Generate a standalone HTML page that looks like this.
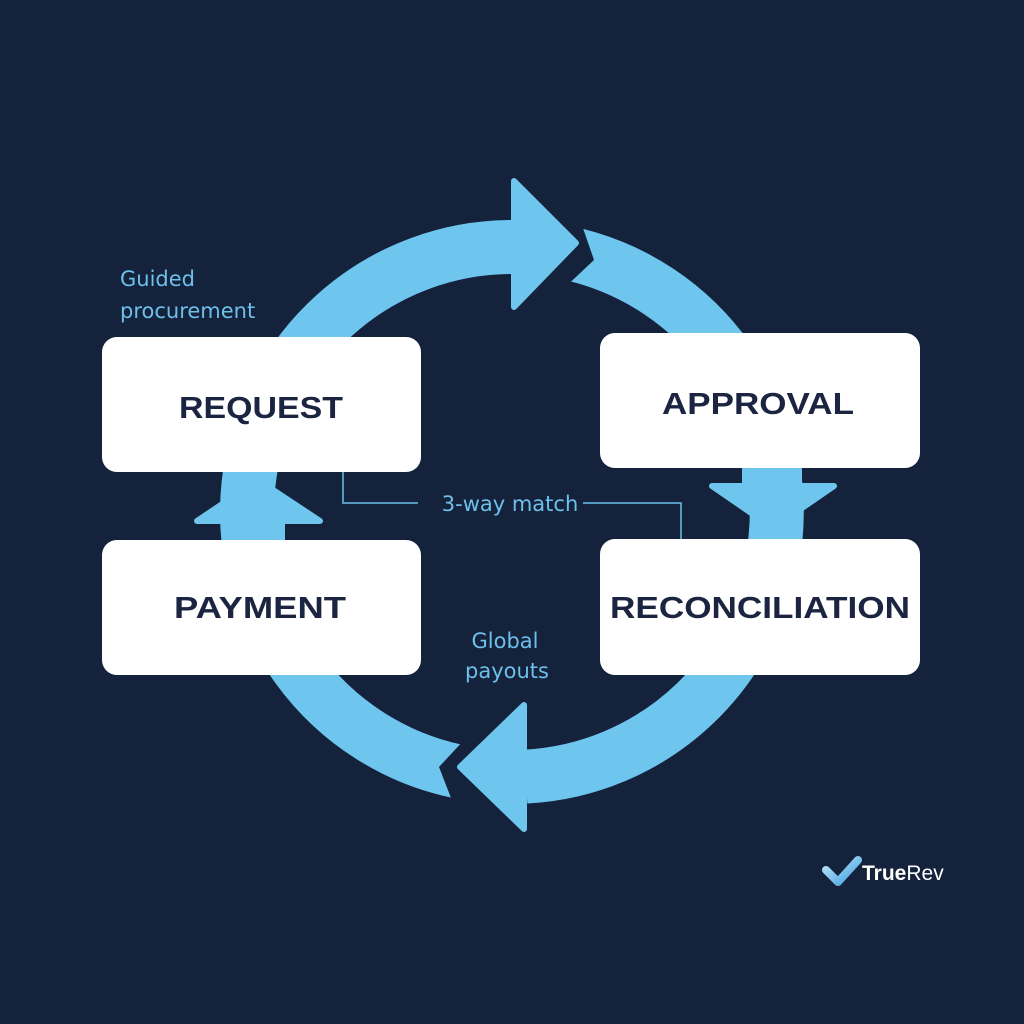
<!DOCTYPE html>
<html><head><meta charset="utf-8"><style>
html,body{margin:0;padding:0;background:#15223b;}
svg{display:block}
</style></head><body>
<svg width="1024" height="1024" viewBox="0 0 1024 1024" xmlns="http://www.w3.org/2000/svg">
<rect width="1024" height="1024" fill="#15223b"/>
<g fill="none" stroke="#6ec6ee" stroke-width="54">
  <path d="M 456.9 771.2 A 265 265 0 0 1 512 247"/>
  <path d="M 576.1 254.9 A 265 265 0 0 1 525.9 776.6"/>
</g>
<g fill="#15223b">
  <polygon points="582.6,227 594,260 569.6,283 560,240"/>
  <polygon points="453,803 439,767 465,739 470,770"/>
</g>
<g fill="#6ec6ee" stroke="#6ec6ee" stroke-width="6" stroke-linejoin="round">
  <polygon points="514,181 576,243 514,307"/>
  <polygon points="524,705 460,767 524,829"/>
  <polygon points="197,521 258,480 320,521"/>
  <rect x="231" y="515" width="54" height="30" stroke="none"/>
  <polygon points="712,486 773,528 834,486"/>
  <rect x="742" y="462" width="60" height="28" stroke="none"/>
</g>
<g fill="none" stroke="#6cc0ea" stroke-width="1.5">
  <polyline points="343,470 343,503 418,503"/>
  <polyline points="583,503 681,503 681,539"/>
</g>
<g fill="#ffffff">
  <rect x="102" y="337" width="319" height="135" rx="15"/>
  <rect x="600" y="333" width="320" height="135" rx="15"/>
  <rect x="102" y="540" width="319" height="135" rx="15"/>
  <rect x="600" y="539" width="320" height="136" rx="15"/>
</g>
<g font-family="Liberation Sans, sans-serif" font-weight="bold" font-size="31" fill="#1b2440" text-anchor="middle">
  <text x="261" y="418" textLength="164" lengthAdjust="spacingAndGlyphs">REQUEST</text>
  <text x="758" y="414" textLength="192" lengthAdjust="spacingAndGlyphs">APPROVAL</text>
  <text x="260" y="618" textLength="172" lengthAdjust="spacingAndGlyphs">PAYMENT</text>
  <text x="760" y="618" textLength="300" lengthAdjust="spacingAndGlyphs">RECONCILIATION</text>
</g>
<g font-family="DejaVu Sans, Liberation Sans, sans-serif" font-size="21" fill="#6cc0ea">
  <text x="120" y="286">Guided</text>
  <text x="120" y="318">procurement</text>
  <text x="510" y="511" text-anchor="middle">3-way match</text>
  <text x="505" y="648" text-anchor="middle">Global</text>
  <text x="507" y="678" text-anchor="middle">payouts</text>
</g>
<defs><linearGradient id="lg" x1="0" y1="0" x2="1" y2="1"><stop offset="0" stop-color="#bfe6fa"/><stop offset="1" stop-color="#3f9fe0"/></linearGradient></defs>
<path d="M826 870 L838 882 L858 860" fill="none" stroke="url(#lg)" stroke-width="8" stroke-linecap="round" stroke-linejoin="round"/>
<text x="862" y="880" font-family="Liberation Sans, sans-serif" font-size="21" fill="#ffffff"><tspan font-weight="bold">True</tspan><tspan>Rev</tspan></text>
</svg>
</body></html>
